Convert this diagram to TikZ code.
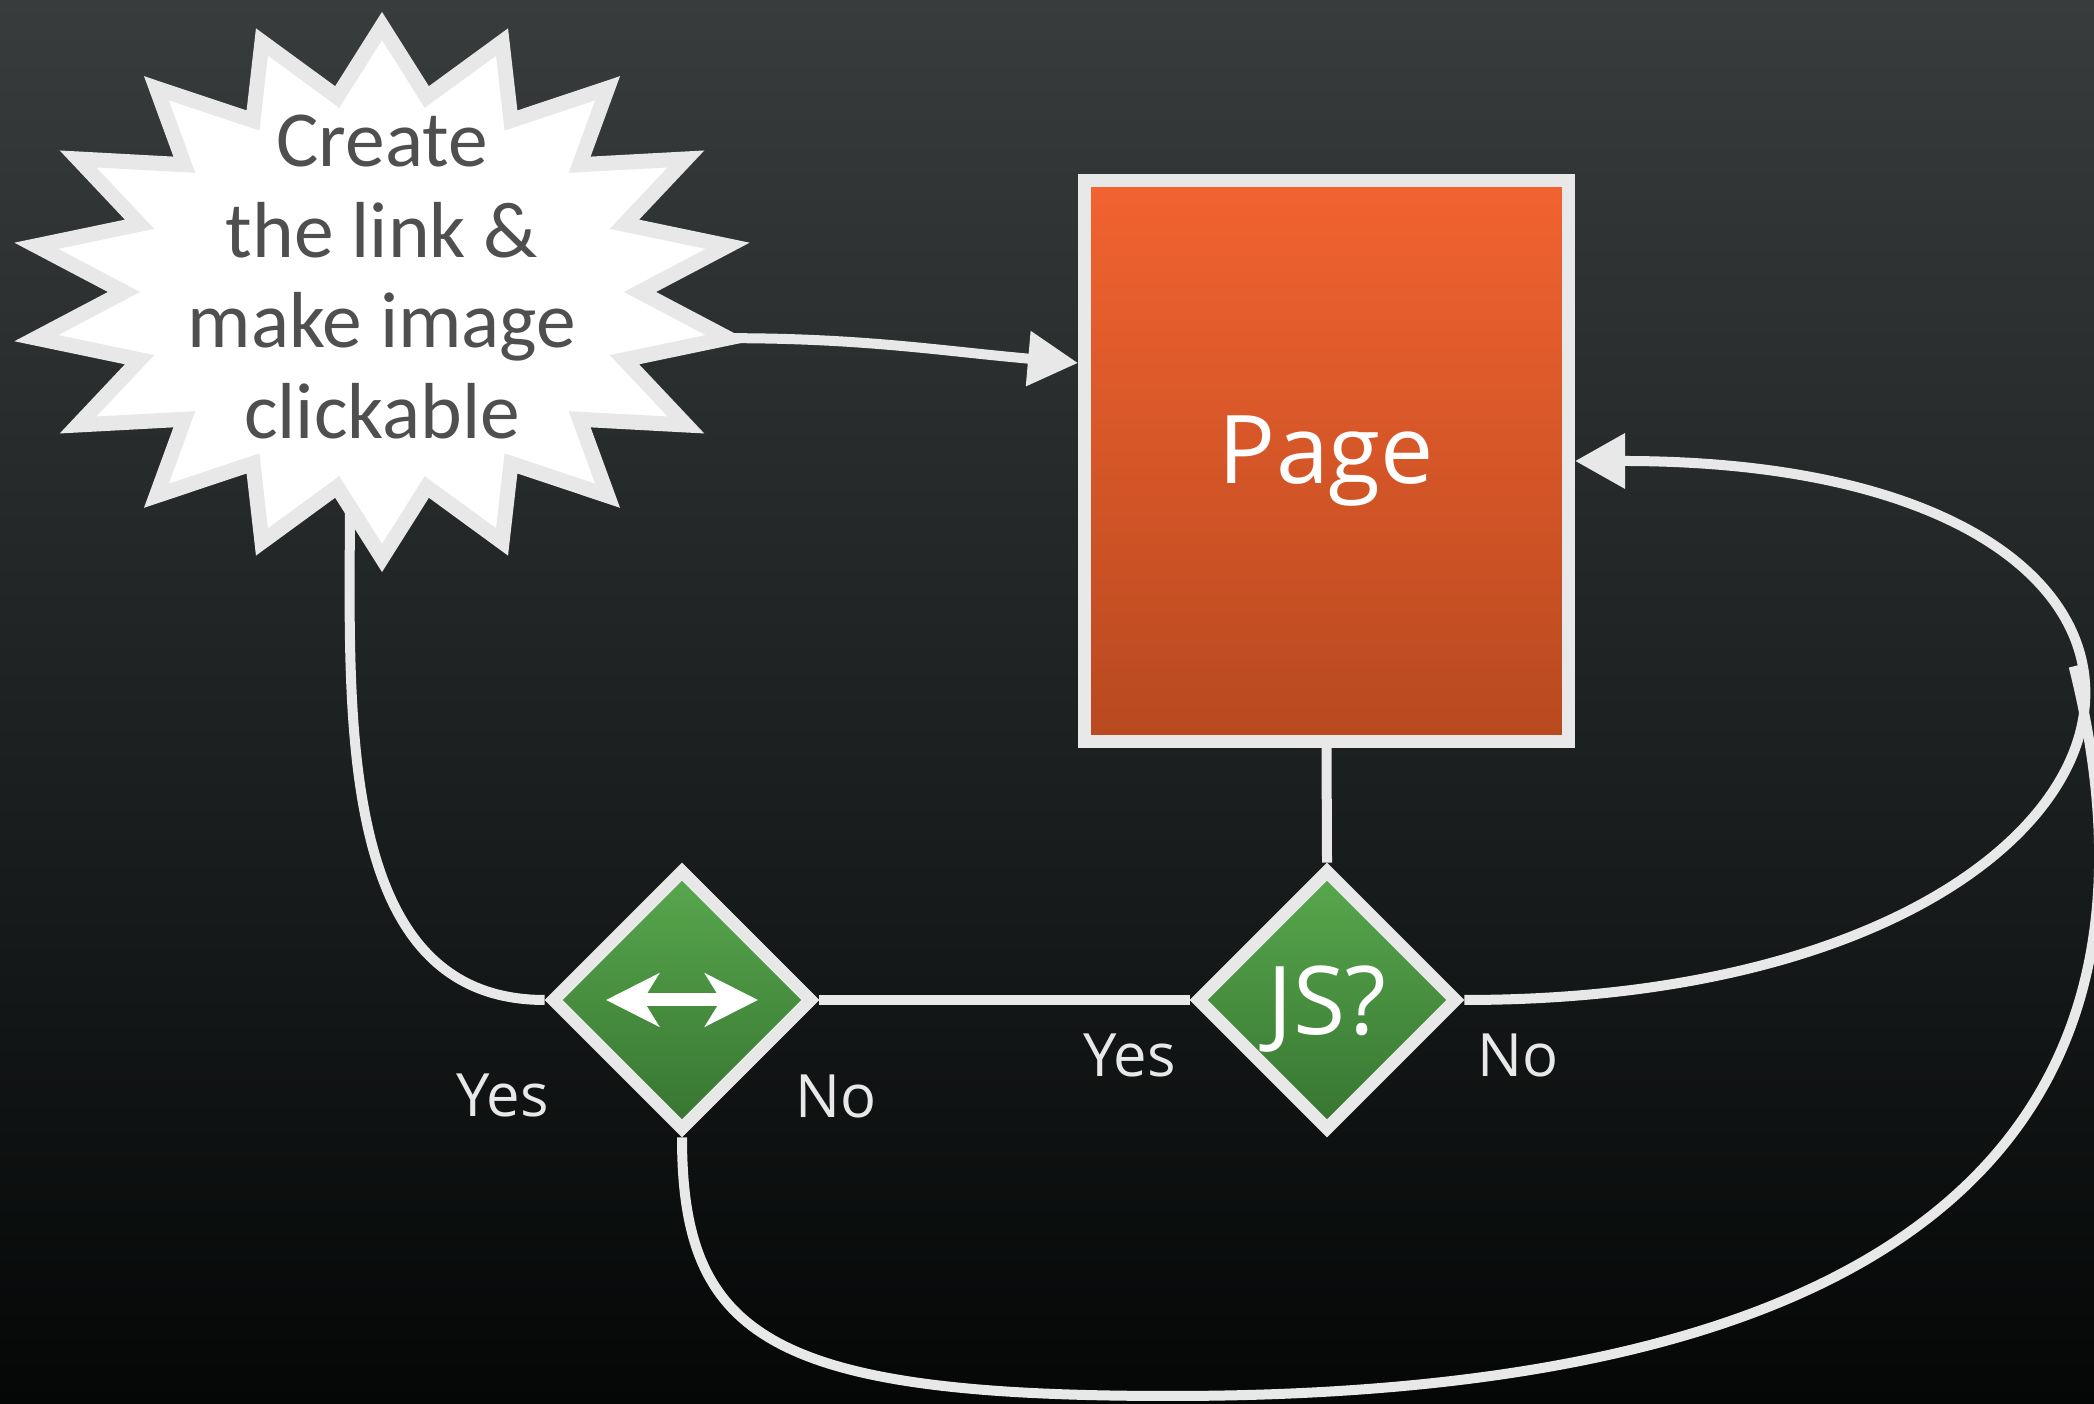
\documentclass[tikz,border=0pt]{standalone}
\usepackage{fontspec}
\setmainfont{Open Sans}
\newfontfamily\burstfont{Carlito}
\usepackage{tikz}
\usetikzlibrary{shapes.geometric, arrows.meta, positioning, calc, backgrounds}
\usepackage{xcolor}
\definecolor{bgtop}{HTML}{383C3D}
\definecolor{bgbot}{HTML}{050707}
\definecolor{edge}{HTML}{E8E8E8}
\definecolor{pagetop}{HTML}{F26330}
\definecolor{pagebot}{HTML}{B8491F}
\definecolor{leaftop}{HTML}{58A84E}
\definecolor{leafbot}{HTML}{377531}
\definecolor{inktext}{HTML}{4F4F4F}

\begin{document}
\begin{tikzpicture}[
    link/.style={draw=edge, line width=1mm},
    tip/.style={-{Triangle[length=5mm, width=5.3mm]}},
    choice/.style={diamond, aspect=1, minimum width=26.2mm, minimum height=26.2mm, inner sep=0pt,
        draw=edge, line width=1.27mm, top color=leaftop, bottom color=leafbot,
        text=white, text depth=0pt, font=\fontsize{27}{30}\selectfont},
    answer/.style={text=edge, inner sep=0pt, font=\fontsize{17}{20}\selectfont},
    swap/.style={white, line width=1.3mm,
        {Stealth[length=5.3mm, width=5.3mm, inset=1.6mm]}-{Stealth[length=5.3mm, width=5.3mm, inset=1.6mm]}}
]
\useasboundingbox (0,0) rectangle (20.94,14.04);

\coordinate (burstc) at (3.82,11.12);
\coordinate (burstout) at ($(burstc)+(-10:3.51 and 2.66)$);
\coordinate (burstin) at ($(burstc)+(-0.32,-2.0)$);

\draw[draw=edge, fill=white, line width=1.5mm, shift={(burstc)}] (80:2.58 and 1.98)
    \foreach \a in {0,20,...,320} { -- (\a+90:3.51 and 2.66) -- (\a+100:2.58 and 1.98) }
    -- (70:3.51 and 2.66) -- cycle;
\node[text=inktext, align=center, font=\burstfont\fontsize{22.6}{25.8}\selectfont] (burst) at (3.82,11.27)
    {Create\\the link \&\\make image\\clickable};

\node[draw=edge, line width=1.3mm, top color=pagetop, bottom color=pagebot,
    minimum width=48.4mm, minimum height=56.1mm, text=white,
    font=\fontsize{27}{30}\selectfont] (page) at (13.265,9.43) {Page};

\node[choice] (sizeq) at (6.82,4.04) {};
\node[choice] (js) at (13.27,4.04) {JS?};
\draw[swap] ([xshift=-7.6mm]sizeq.center) -- ([xshift=7.6mm]sizeq.center);

\node[answer] (sizeyes) at ([shift={(-0.42,-0.95)}]sizeq.west) {Yes};
\node[answer] (sizeno) at ([shift={(0.17,-0.96)}]sizeq.east) {No};
\node[answer] (jsyes) at ([shift={(-0.6,-0.55)}]js.west) {Yes};
\node[answer] (jsno) at ([shift={(0.54,-0.55)}]js.east) {No};

\begin{scope}[on background layer]
  \fill[top color=bgtop, bottom color=bgbot] (0,0) rectangle (20.94,14.04);
  \draw[link, tip] (burstout) to[out=0, in=175] ([yshift=9.8mm]page.west);
  \draw[link] (page.south) -- (js.north);
  \draw[link] (js.west) -- (sizeq.east);
  \draw[link] (sizeq.west) to[out=180, in=-90] (burstin);
  \draw[link, tip] (js.east) .. controls +(7.4,0) and +(7.4,0) .. coordinate[pos=0.58] (merge) (page.east);
  \draw[link] (sizeq.south) .. controls +(0,-2) and +(-4,0) .. (11.7,0.08)
      .. controls +(9,0) and +(0.854,-3.414) .. (merge);
\end{scope}
\end{tikzpicture}
\end{document}
